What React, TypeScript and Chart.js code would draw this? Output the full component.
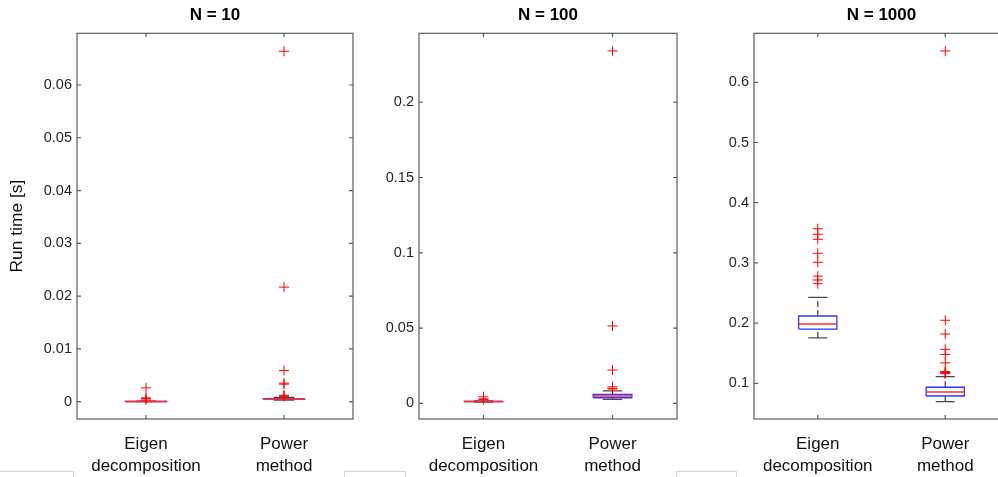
import React, { useEffect, useRef } from 'react';
import { Chart, registerables } from 'chart.js';

Chart.register(...registerables);

// ---------- data ----------
const categories = [['Eigen', 'decomposition'], ['Power', 'method']];
const panelTitles = ['N = 10', 'N = 100', 'N = 1000'];
const yAxisLabel = 'Run time [s]';

// [lower whisker, q1, median, q3, upper whisker] for Eigen, Power
const statsN10 = [
  [0.00001, 0.00002, 0.00003, 0.00004, 0.00008],
  [0.0003, 0.00045, 0.0005, 0.00055, 0.0008],
];
const outliersN10 = [
  [0.0026, 0.0007, 0.0006, 0.0003],
  [0.0664, 0.0217, 0.0059, 0.0035, 0.0033, 0.0012, 0.0011, 0.001],
];
const statsN100 = [
  [0.0009, 0.0011, 0.0012, 0.0013, 0.0017],
  [0.0026, 0.0037, 0.0048, 0.006, 0.0083],
];
const outliersN100 = [
  [0.0044, 0.003, 0.0025],
  [0.2341, 0.0514, 0.0221, 0.011, 0.01, 0.0095],
];
const statsN1000 = [
  [0.1753, 0.19, 0.1985, 0.2118, 0.2429],
  [0.0694, 0.0789, 0.0855, 0.0934, 0.111],
];
const outliersN1000 = [
  [0.3568, 0.3475, 0.3392, 0.316, 0.301, 0.278, 0.2716, 0.2655],
  [0.652, 0.2047, 0.1819, 0.1565, 0.148, 0.134, 0.1195, 0.118, 0.117, 0.116],
];

const yTicksN10 = [0, 0.01, 0.02, 0.03, 0.04, 0.05, 0.06];
const yTicksN100 = [0, 0.05, 0.1, 0.15, 0.2];
const yTicksN1000 = [0.1, 0.2, 0.3, 0.4, 0.5, 0.6];
const yLimitsN10 = [-0.0033, 0.0698];
const yLimitsN100 = [-0.0104, 0.2458];
const yLimitsN1000 = [0.0407, 0.6814];

// ---------- styling / layout ----------
const FONT = '"Liberation Sans", Arial, Helvetica, sans-serif';
const TEXT = '#262626';
const BOX_HALF = 0.15;
const CAP_HALF = 0.075;

const panels = [
  { title: panelTitles[0], stats: statsN10, outliers: outliersN10, yTicks: yTicksN10, yLimits: yLimitsN10, yLabel: yAxisLabel, left: 0, width: 370, axisWidth: 77, padLeft: 0 },
  { title: panelTitles[1], stats: statsN100, outliers: outliersN100, yTicks: yTicksN100, yLimits: yLimitsN100, yLabel: '', left: 360, width: 330, axisWidth: 59, padLeft: 0 },
  { title: panelTitles[2], stats: statsN1000, outliers: outliersN1000, yTicks: yTicksN1000, yLimits: yLimitsN1000, yLabel: '', left: 695, width: 330, axisWidth: 59, padLeft: 0 },
];
const AREA_RIGHT = [353, 677, 1009];

const framePlugin = {
  id: 'matlabFrame',
  afterDraw(chart: any) {
    const { ctx, chartArea: a, scales } = chart;
    ctx.save();
    ctx.strokeStyle = '#5c5c5c';
    ctx.lineWidth = 1.2;
    ctx.strokeRect(a.left, a.top, a.right - a.left, a.bottom - a.top);
    const tl = 4;
    ctx.beginPath();
    scales.y.ticks.forEach((t: any) => {
      const p = scales.y.getPixelForValue(t.value);
      ctx.moveTo(a.left, p); ctx.lineTo(a.left + tl, p);
      ctx.moveTo(a.right, p); ctx.lineTo(a.right - tl, p);
    });
    scales.x.ticks.forEach((t: any) => {
      const p = scales.x.getPixelForValue(t.value);
      ctx.moveTo(p, a.bottom); ctx.lineTo(p, a.bottom - tl);
      ctx.moveTo(p, a.top); ctx.lineTo(p, a.top + tl);
    });
    ctx.stroke();
    ctx.restore();
  },
};

function lineDs(points: any[], color: string, width: number, dash: number[] = [], order = 5) {
  return {
    data: points,
    showLine: true,
    borderColor: color,
    backgroundColor: color,
    borderWidth: width,
    borderDash: dash,
    pointRadius: 0,
    fill: false,
    tension: 0,
    order,
  };
}

function buildDatasets(stats: number[][], outliers: number[][]) {
  const ds: any[] = [];
  stats.forEach((s, i) => {
    const x = i + 1;
    const [lo, q1, med, q3, hi] = s;
    ds.push({
      data: outliers[i].map((y) => ({ x, y })),
      showLine: false,
      pointStyle: 'cross',
      pointRadius: 5,
      pointBorderWidth: 1,
      pointBorderColor: '#ff0000',
      borderColor: '#ff0000',
      backgroundColor: '#ff0000',
      order: 0,
    });
    ds.push(lineDs([{ x: x - BOX_HALF, y: med }, { x: x + BOX_HALF, y: med }], '#ff2a2a', 1.5, [], 1));
    ds.push(lineDs([
      { x: x - BOX_HALF, y: q1 }, { x: x + BOX_HALF, y: q1 }, { x: x + BOX_HALF, y: q3 },
      { x: x - BOX_HALF, y: q3 }, { x: x - BOX_HALF, y: q1 },
    ], '#3434ff', 1.3, [], 3));
    ds.push(lineDs([{ x, y: q3 }, { x, y: hi }], '#4a4a4a', 1.3, [6, 3], 4));
    ds.push(lineDs([{ x, y: lo }, { x, y: q1 }], '#4a4a4a', 1.3, [6, 3], 4));
    ds.push(lineDs([{ x: x - CAP_HALF, y: hi }, { x: x + CAP_HALF, y: hi }], '#4a4a4a', 1.3, [], 2));
    ds.push(lineDs([{ x: x - CAP_HALF, y: lo }, { x: x + CAP_HALF, y: lo }], '#4a4a4a', 1.3, [], 2));
  });
  return ds;
}

function fmt(v: number) {
  return String(Number(v.toFixed(6)));
}

function BoxPanel({ cfg, areaRight }: { cfg: any; areaRight: number }) {
  const ref = useRef<HTMLCanvasElement | null>(null);
  useEffect(() => {
    if (!ref.current) return;
    const chart = new Chart(ref.current, {
      type: 'scatter',
      data: { datasets: buildDatasets(cfg.stats, cfg.outliers) },
      options: {
        animation: false,
        responsive: true,
        maintainAspectRatio: false,
        events: [],
        layout: { padding: { left: cfg.padLeft, right: cfg.left + cfg.width - areaRight, top: 0, bottom: 0 } },
        plugins: {
          legend: { display: false },
          tooltip: { enabled: false },
          title: {
            display: true,
            text: cfg.title,
            fullSize: false,
            color: '#000000',
            font: { family: FONT, size: 17, weight: 'bold', lineHeight: 1.2 },
            padding: { top: 5.4, bottom: 7.5 },
          },
        },
        scales: {
          x: {
            type: 'linear',
            min: 0.5,
            max: 2.5,
            grid: { display: false, drawTicks: false, tickLength: 0 },
            border: { display: false },
            afterBuildTicks: (scale: any) => {
              scale.ticks = categories.map((_, i) => ({ value: i + 1 }));
            },
            afterFit: (scale: any) => { scale.height = 58; },
            ticks: {
              color: '#111111',
              maxRotation: 0,
              autoSkip: false,
              padding: 14.5,
              font: { family: FONT, size: 17, lineHeight: 1.28 },
              callback: (v: any) => categories[Math.round(v) - 1] ?? '',
            },
          },
          y: {
            type: 'linear',
            min: cfg.yLimits[0],
            max: cfg.yLimits[1],
            grid: { display: false, drawTicks: false, tickLength: 0 },
            border: { display: false },
            afterBuildTicks: (scale: any) => {
              scale.ticks = cfg.yTicks.map((v: number) => ({ value: v }));
            },
            afterFit: (scale: any) => { scale.width = cfg.axisWidth; },
            ticks: {
              color: TEXT,
              padding: 5,
              font: { family: FONT, size: 14.5 },
              callback: (v: any) => fmt(Number(v)),
            },
            title: {
              display: !!cfg.yLabel,
              text: cfg.yLabel,
              color: '#111111',
              font: { family: FONT, size: 17.4, lineHeight: 1.2 },
              padding: { top: 7.2, bottom: 0 },
            },
          },
        },
      },
      plugins: [framePlugin],
    } as any);
    return () => chart.destroy();
  }, [cfg, areaRight]);
  return (
    <div style={{ position: 'absolute', left: cfg.left, top: 0, width: cfg.width, height: 477 }}>
      <canvas ref={ref} />
    </div>
  );
}

const stubs = [
  { left: -2, width: 76 },
  { left: 344, width: 62 },
  { left: 676, width: 61 },
];

export default function App() {
  return (
    <div style={{ position: 'fixed', left: 0, top: 0, width: 998, height: 477, overflow: 'hidden', background: '#ffffff' }}>
      {panels.map((p, i) => (
        <BoxPanel key={i} cfg={p} areaRight={AREA_RIGHT[i]} />
      ))}
      {stubs.map((s, i) => (
        <div
          key={'s' + i}
          style={{
            position: 'absolute', left: s.left, top: 471, width: s.width, height: 12,
            borderTop: '1px solid #d8d8d8', borderLeft: '1px solid #d8d8d8', borderRight: '1px solid #d8d8d8',
            boxSizing: 'border-box',
          }}
        />
      ))}
    </div>
  );
}
